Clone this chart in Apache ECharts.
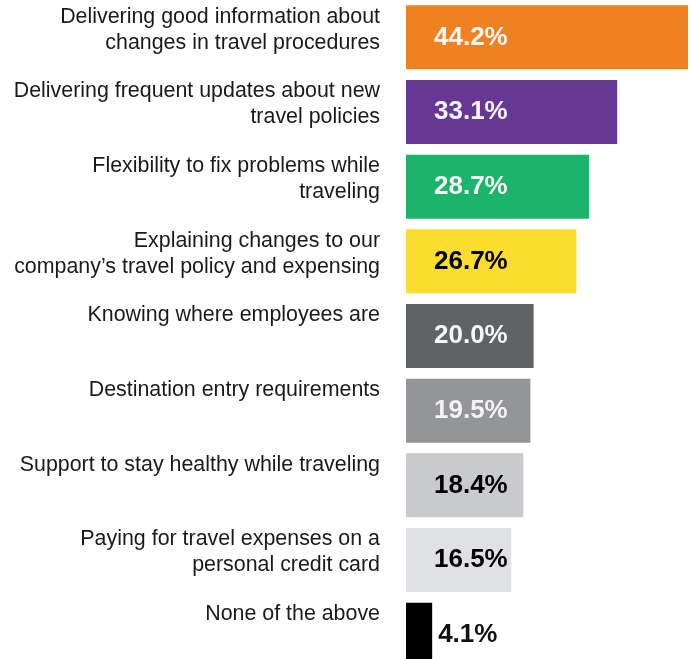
<!DOCTYPE html>
<html>
<head>
<meta charset="utf-8">
<script src="https://cdn.jsdelivr.net/npm/echarts@6/dist/echarts.min.js"></script>
<style>
  html, body { margin: 0; padding: 0; background: #ffffff; }
  #chart { width: 691px; height: 659px; }
</style>
</head>
<body>
<div id="chart"></div>
<script>
// Survey responses, top to bottom
const categories = [
  'Delivering good information about\nchanges in travel procedures',
  'Delivering frequent updates about new\ntravel policies',
  'Flexibility to fix problems while\ntraveling',
  'Explaining changes to our\ncompany\u2019s travel policy and expensing',
  'Knowing where employees are',
  'Destination entry requirements',
  'Support to stay healthy while traveling',
  'Paying for travel expenses on a\npersonal credit card',
  'None of the above'
];
const values = [44.2, 33.1, 28.7, 26.7, 20.0, 19.5, 18.4, 16.5, 4.1];
const barColors = ['#F08122', '#663893', '#1CB36A', '#FCDC2E', '#5F6366', '#949598', '#C9CACE', '#E0E1E5', '#000000'];
const labelColors = ['#F7F7F7', '#F7F7F7', '#F7F7F7', '#000000', '#F7F7F7', '#F2F2F2', '#000000', '#000000', '#111111'];

const chart = echarts.init(document.getElementById('chart'));

const seriesData = values.map((v, i) => {
  const small = v < 8;
  return {
    value: v,
    itemStyle: { color: barColors[i] },
    label: {
      position: small ? 'right' : 'insideLeft',
      distance: small ? 6 : 28,
      color: labelColors[i]
    }
  };
});

chart.setOption({
  animation: false,
  // plot area runs past the right and bottom edges of the canvas
  grid: {
    left: 406, top: 0, width: 319, height: 672,
    containLabel: false,
    outerBoundsMode: 'none'
  },
  xAxis: {
    type: 'value',
    min: 0,
    max: 50,
    show: false
  },
  yAxis: {
    type: 'category',
    inverse: true,
    data: categories,
    axisLine: { show: false },
    axisTick: { show: false },
    splitLine: { show: false },
    axisLabel: {
      interval: 0,
      showMinLabel: true,
      showMaxLabel: true,
      hideOverlap: false,
      margin: 26,
      align: 'right',
      // pad every label to three lines (the last one short) so the text sits at the top of its bar
      formatter: function (txt) {
        const lines = txt.split('\n');
        while (lines.length < 2) lines.push(' ');
        return lines.map(l => '{a|' + l + '}').join('\n') + '\n{b| }';
      },
      rich: {
        a: {
          fontFamily: 'Liberation Sans, Arial, sans-serif',
          fontSize: 21.4,
          lineHeight: 26,
          color: '#1a1a1a',
          align: 'right'
        },
        b: {
          fontSize: 10,
          lineHeight: 15
        }
      }
    }
  },
  series: [{
    type: 'bar',
    data: seriesData,
    barWidth: 64,
    label: {
      show: true,
      fontFamily: 'Liberation Sans, Arial, sans-serif',
      fontWeight: 'bold',
      fontSize: 26,
      formatter: p => p.value.toFixed(1) + '%'
    }
  }]
});
</script>
</body>
</html>
